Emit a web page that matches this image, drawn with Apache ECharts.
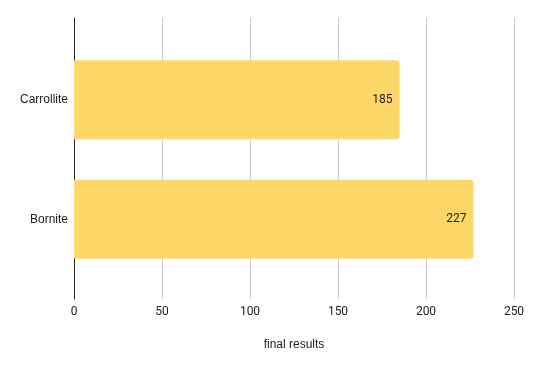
<!DOCTYPE html>
<html><head><meta charset="utf-8">
<script src="https://cdn.jsdelivr.net/npm/echarts@6/dist/echarts.min.js"></script>
<style>html,body{margin:0;padding:0;background:#fff}#c{width:533px;height:371px}</style>
</head><body><div id="c"></div>
<script>
const categories = ['Bornite', 'Carrollite'];
const values = [227, 185];
const xTicks = [0, 50, 100, 150, 200, 250];
const axisTitle = 'final results';

const chart = echarts.init(document.getElementById('c'), null, {renderer: 'canvas'});
const font = 'Roboto, Arial, sans-serif';
const font2 = '"Liberation Sans", Arial, sans-serif';
chart.setOption({
  animation: false,
  backgroundColor: '#ffffff',
  grid: [
    {left: 74, right: 19, top: 18, bottom: 72},
    {left: 74, right: 19, top: 40, bottom: 92}
  ],
  xAxis: [
    {
      gridIndex: 0, type: 'value', min: xTicks[0], max: xTicks[xTicks.length - 1], interval: 50,
      axisLine: {show: false}, axisTick: {show: false},
      splitLine: {show: true, lineStyle: {color: '#cccccc', width: 1}},
      axisLabel: {color: '#222', fontSize: 12, fontFamily: font, margin: 7},
      name: axisTitle, nameLocation: 'middle', nameGap: 40,
      nameTextStyle: {color: '#222', fontSize: 12, fontFamily: font2}
    },
    {gridIndex: 1, type: 'value', min: xTicks[0], max: xTicks[xTicks.length - 1], show: false}
  ],
  yAxis: [
    {
      gridIndex: 0, type: 'value', min: 0, max: 1,
      axisLine: {show: true, onZero: false, lineStyle: {color: '#222', width: 1}},
      axisTick: {show: false}, axisLabel: {show: false}, splitLine: {show: false}
    },
    {
      gridIndex: 1, type: 'category', data: categories,
      axisLine: {show: false}, axisTick: {show: false}, splitLine: {show: false},
      axisLabel: {color: '#222', fontSize: 12, fontFamily: font2, margin: 6}
    }
  ],
  series: [{
    type: 'bar', xAxisIndex: 1, yAxisIndex: 1,
    data: values, barWidth: 79,
    itemStyle: {color: '#fdd768', borderRadius: [0, 3, 3, 0]},
    label: {show: true, position: 'insideRight', distance: 7, color: '#222', fontSize: 12, fontFamily: font}
  }]
});
</script></body></html>
